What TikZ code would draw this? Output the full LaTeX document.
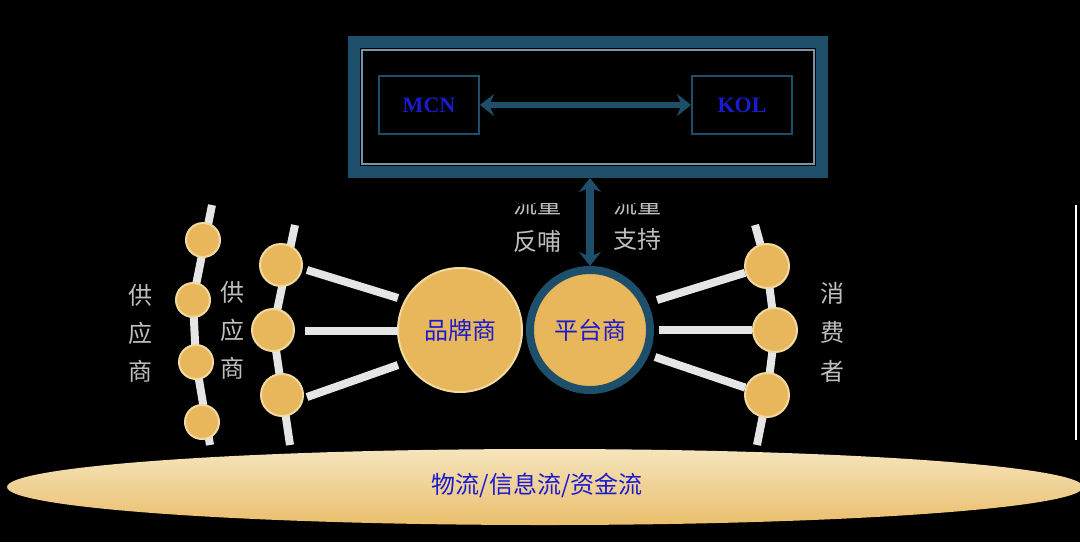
\documentclass[tikz,border=0pt]{standalone}
\usepackage{fontspec}
\setmainfont{Liberation Serif}
\newfontfamily\cjk{Noto Sans CJK SC}
\usetikzlibrary{arrows.meta}
\definecolor{teal}{HTML}{1D4F6B}
\definecolor{gold}{HTML}{E8B75C}
\definecolor{sand}{HTML}{F2D9A0}
\definecolor{txtblue}{HTML}{1A1AD0}
\tikzset{
  px/.style={x=0.5pt,y=-0.5pt},
  bead/.style={circle,fill=gold,draw=sand,line width=1pt,inner sep=0pt},
  spoke/.style={draw=gray!20,line width=4pt},
  tag/.style={font=\cjk\fontsize{12}{12}\selectfont,text=gray!50},
  bluelbl/.style={text=txtblue,font=\cjk\fontsize{12}{12}\selectfont},
  role/.style={draw=teal,line width=1pt,minimum width=50pt,minimum height=29pt,text=txtblue,font=\bfseries\fontsize{11}{11}\selectfont},
  link/.style={draw=teal,line width=3pt,{Stealth[length=7pt,width=11pt]}-{Stealth[length=7pt,width=11pt]}}
}
\begin{document}
\begin{tikzpicture}[px]
\fill[black] (0,0) rectangle (1080,542);
\useasboundingbox (0,0) rectangle (1080,542);
% top frame
\draw[teal,line width=6pt] (354,42) rectangle (822,172);
\draw[teal!60,line width=0.6pt] (362,50) rectangle (814,164);
\node[role] (mcn) at (429,105) {MCN};
\node[role] (kol) at (742,105) {KOL};
\draw[link] (mcn) -- (kol);
% chains
\draw[spoke] (212,205) -- (193,300) -- (196,362) -- (210,445);
\draw[spoke] (295,225) -- (273,330) -- (290,445);
\draw[spoke] (755,225) -- (767,268) -- (775,330) -- (767,395) -- (757,445);
\foreach \n/\x/\y in {a1/203/240,a2/193/300,a3/196/362,a4/202/422}
  \node[bead,minimum size=17pt] (\n) at (\x,\y) {};
\foreach \n/\x/\y in {b1/281/265,b2/273/330,b3/282/395}
  \node[bead,minimum size=21pt] (\n) at (\x,\y) {};
\foreach \n/\x/\y in {c1/767/266,c2/775/330,c3/767/395}
  \node[bead,minimum size=22pt] (\n) at (\x,\y) {};
% hubs
\node[bead,minimum size=62pt] (brand) at (460,330) {};
\node[bead,draw=teal,line width=4pt,minimum size=60pt] (plat) at (590,330) {};
\node[bluelbl] at (brand) {品牌商};
\node[bluelbl] at (plat) {平台商};
\draw[spoke] (307,270) -- (398,298);
\draw[spoke] (305,331) -- (398,331);
\draw[spoke] (307,397) -- (398,365);
\draw[spoke] (657,300) -- (c1);
\draw[spoke] (659,330) -- (c2);
\draw[spoke] (655,357) -- (c3);
% feedback arrow
\coordinate (ftop) at (590,178);
\draw[link,line width=4pt] (ftop) -- (plat.north);
\begin{scope}
\clip (480,203) rectangle (700,270);
\node[tag] at (537,204) {流量};
\node[tag] at (537,241) {反哺};
\node[tag] at (637,204) {流量};
\node[tag] at (637,239) {支持};
\end{scope}
\foreach \t [count=\i] in {供,应,商}
  \node[tag] at (140,257+38*\i) {\t};
\foreach \t [count=\i] in {供,应,商}
  \node[tag] at (232,254+38*\i) {\t};
\foreach \t [count=\i] in {消,费,者}
  \node[tag] at (832,254+39*\i) {\t};
% base
\shade[top color=sand!70,bottom color=gold!90] (545,487) ellipse [x radius=538,y radius=38];
\node[bluelbl] (base) at (537,485) {物流/信息流/资金流};
\draw[white,line width=1pt] (1076,205) -- (1076,440);
\end{tikzpicture}
\end{document}
